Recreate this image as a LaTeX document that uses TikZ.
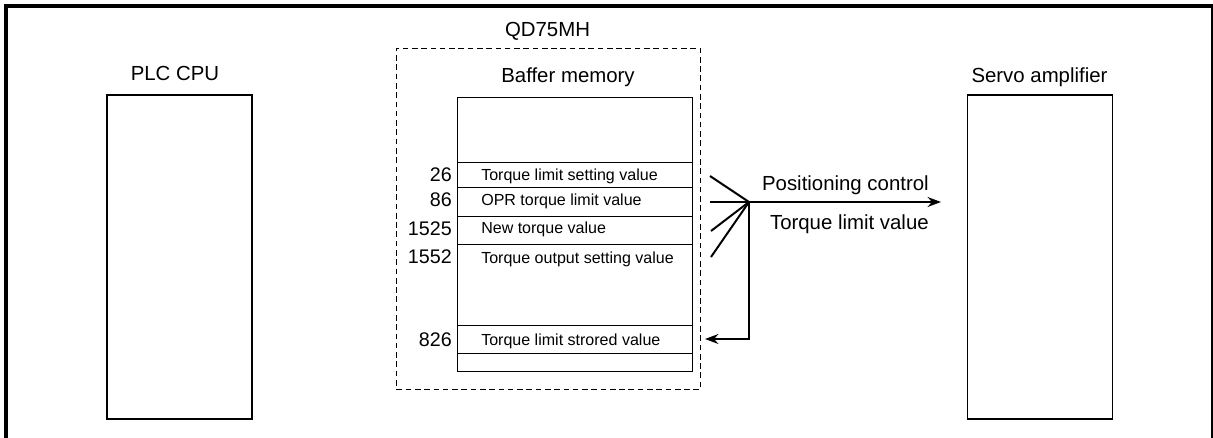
\documentclass[tikz,border=0pt]{standalone}
\usepackage{fontspec}
\setmainfont{Liberation Sans}
\usetikzlibrary{arrows.meta, positioning}

\begin{document}
\begin{tikzpicture}[x=0.025cm, y=-0.025cm,
  unit/.style={draw, line width=0.8pt, minimum width=3.625cm, minimum height=8.1cm, inner sep=0pt},
  title/.style={font=\fontsize{14.5}{17}\selectfont, inner sep=0pt},
  addr/.style={anchor=base east, font=\fontsize{14}{16}\selectfont, inner sep=0pt},
  item/.style={anchor=base west, font=\fontsize{11.4}{13}\selectfont, inner sep=0pt},
  flow/.style={line width=2.1pt},
  feed/.style={line width=1.4pt},
  tip/.style={-{Stealth[length=9.5pt, width=7pt]}}
]
  \useasboundingbox (0,0) rectangle (1213,438);
  \draw[line width=2.85pt] (6,438) -- (6,6) -- (1213,6);
  \draw[line width=0.8pt] (1212,6) -- (1212,438);

  \node[unit] (plc) at (179.5,257) {};
  \node[title, anchor=base] (plclbl) at (175,81) {PLC CPU};
  \node[unit] (servo) at (1040,257) {};
  \node[title, anchor=base] (servolbl) at (1039.5,83) {Servo amplifier};

  \node[draw, dash pattern=on 4pt off 2.6pt, line width=0.7pt, minimum width=7.6cm, minimum height=8.525cm, inner sep=0pt] (qd) at (548.5,219) {};
  \node[title, anchor=base] (qdlbl) at (547.5,37) {QD75MH};
  \node[title, anchor=base] (memlbl) at (568,83) {Baffer memory};
  \node[draw, line width=0.8pt, minimum width=5.875cm, minimum height=6.85cm, inner sep=0pt] (mem) at (575.2,234.7) {};
  \foreach \y in {162,187,216,244,325,353}
    \draw[line width=0.7pt] (mem.west |- 0,\y) -- (mem.east |- 0,\y);

  \node[addr] (a26) at (452,181.5) {26};
  \node[addr] (a86) at (452,207) {86};
  \node[addr] (a1525) at (452,236) {1525};
  \node[addr] (a1552) at (452,264) {1552};
  \node[addr] (a826) at (452,347) {826};

  \node[item] (r26) at (481,180.5) {Torque limit setting value};
  \node[item] (r86) at (481,206) {OPR torque limit value};
  \node[item] (r1525) at (481,234) {New torque value};
  \node[item] (r1552) at (481,264) {Torque output setting value};
  \node[item] (r826) at (481,345.5) {Torque limit strored value};

  \coordinate (j) at (749,202);
  \coordinate (s1) at (710,176);
  \coordinate (s2) at (711,231);
  \coordinate (s3) at (711,257);
  \coordinate (h0) at (710,202);
  \coordinate (out) at (941,202);
  \coordinate (ret) at (705,339);

  \draw[feed] (s1) -- (j);
  \draw[feed] (s2) -- (j);
  \draw[feed] (s3) -- (j);
  \draw[flow, tip] (h0) -- (out);
  \draw[flow, tip] (j) |- (ret);

  \node[title, anchor=base east] (pos) at (929,191) {Positioning control};
  \node[title, anchor=base east] (tlv) at (929,230) {Torque limit value};
\end{tikzpicture}
\end{document}
